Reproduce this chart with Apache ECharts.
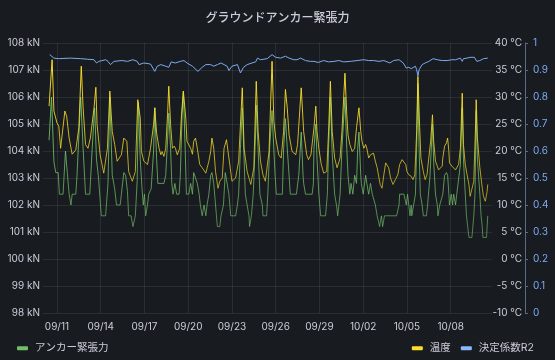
<!DOCTYPE html>
<html><head><meta charset="utf-8">
<script src="https://cdn.jsdelivr.net/npm/echarts@6/dist/echarts.min.js"></script>
<style>html,body{margin:0;padding:0;background:#181b1f;}#c{width:555px;height:360px;}</style>
</head><body><div id="c"></div>
<script>
// x = hours since 09/11 00:00
var xTickHours = [0, 72, 144, 216, 288, 360, 432, 504, 576, 648];
var xTickLabels = ['09/11','09/14','09/17','09/20','09/23','09/26','09/29','10/02','10/05','10/08'];

var tensionData = [
[-13,104.4],[-9,106.0],[-6,106.0],[-5,103.6],[-2,103.2],[2,103.2],[4,102.4],[10,102.4],[14,104.0],[17,103.2],[20,102.4],[22,102.4],[23,102.0],[25,102.4],[31,102.4],[33,103.1],[39,106.0],[43,104.1],[47,102.4],[54,102.4],[58,104.1],[62,105.6],[65,103.7],[68,103.1],[73,101.6],[80,101.6],[84,102.8],[87,106.0],[91,103.1],[95,102.6],[98,102.0],[104,102.0],[106,102.4],[110,103.2],[113,103.1],[116,102.5],[118,101.6],[122,101.6],[125,101.2],
[127,101.2],[129,101.6],[132,102.9],[134,105.8],[137,103.7],[140,102.6],[142,102.0],[144,102.4],[146,101.6],[149,102.0],[151,102.4],[155,102.6],[159,104.0],[161,105.6],[164,103.7],[166,102.8],[176,102.8],[179,103.1],[182,104.4],[184,105.4],[187,104.1],[189,102.8],[191,102.4],[194,102.8],[197,102.4],[201,102.4],[203,103.1],[206,105.4],[208,106.2],[211,104.1],[213,102.4],[217,102.4],[220,102.8],[223,102.4],[225,103.2],[228,103.2],[231,102.8],[234,102.4],[236,102.0],[239,101.6],[242,102.0],[245,101.6],[247,102.0],[250,102.4],[253,103.1],[255,103.2],[258,102.8],[261,102.0],[264,101.2],[268,101.2],[270,101.6],[274,102.0],
[275,102.4],[277,103.2],[280,103.2],[283,102.4],[286,101.6],[294,101.6],[297,102.0],[299,102.4],[302,104.1],[305,105.6],[308,103.7],[310,102.4],[316,101.6],[317,101.2],[320,101.6],[323,102.4],[327,104.7],[328,105.7],[331,104.1],[334,102.4],[338,102.0],[339,101.6],[345,101.6],[347,102.4],[350,104.1],[354,105.5],[356,104.5],[359,103.1],[361,102.4],[371,102.4],[373,104.1],[376,105.2],[379,104.1],[382,103.1],[384,102.4],[394,102.4],[398,103.1],[402,104.7],[405,103.1],[406,102.8],[409,102.4],[420,102.4],[422,102.8],
[423,104.1],[426,105.0],[428,103.7],[431,102.4],[434,101.6],[442,101.6],[445,102.4],[447,104.1],[450,106.0],[453,103.9],[457,102.4],[460,102.0],[462,101.6],[466,102.4],[469,104.1],[474,106.0],[477,104.1],[479,103.1],[482,102.4],[484,102.8],[487,102.4],[490,103.1],[493,102.8],[495,104.1],[497,104.7],[500,103.1],[501,102.8],[504,102.4],[508,103.1],[510,102.8],[513,102.4],[516,102.8],[519,102.4],[521,102.4],[524,102.0],[527,101.6],[530,101.6],[531,101.2],[534,101.6],[536,101.2],[539,101.6],[559,101.6],[563,102.0],[564,102.4],[571,102.4],
[574,102.4],[575,102.0],[577,102.4],[579,102.0],[581,101.6],[583,102.0],[584,101.6],[587,101.6],[590,102.4],[592,104.1],[594,106.5],[596,104.1],[598,102.4],[601,102.0],[603,101.6],[608,101.6],[610,102.0],[614,103.1],[618,105.0],[620,103.6],[623,102.4],[626,102.0],[627,101.6],[630,102.0],[632,102.0],[635,102.4],[638,103.1],[641,103.2],[643,103.1],[645,102.4],[646,102.0],[649,102.4],[651,102.0],[653,102.4],[656,102.0],[658,102.4],[661,102.4],[664,103.5],[667,105.6],[669,103.7],[672,102.4],[674,101.6],[676,101.2],[678,100.8],[683,100.8],[686,101.6],[688,102.4],[690,105.5],[692,103.7],[696,102.4],[698,101.6],[700,101.2],[701,100.8],[707,100.8],[709,101.6]
];

var temperatureData = [
[-13,28.3],[-8,36.9],[-5,27.4],[0,25.2],[3,24.6],[6,20.5],[9,20.5],[13,27.4],[16,26.4],[20,22.4],[25,19.4],[31,20.2],[36,24.3],[40,35.7],[43,28.0],[47,21.2],[51,20.5],[55,22.4],[61,28.0],[64,31.8],[66,24.9],[71,19.3],[77,15.9],[83,20.5],[87,31.1],[91,23.6],[95,21.2],[99,18.1],[106,19.3],[110,22.4],[115,21.8],[118,16.2],[124,14.4],
[129,16.2],[133,29.5],[137,26.1],[139,19.9],[143,18.1],[149,17.5],[154,20.5],[159,24.9],[161,28.0],[164,23.3],[168,20.5],[171,19.3],[173,19.9],[176,19.0],[179,20.5],[182,26.7],[184,32.0],[187,24.9],[190,20.5],[193,20.9],[195,20.5],[198,19.3],[202,20.5],[205,26.7],[208,31.1],[212,26.1],[214,21.8],[220,20.5],[223,19.4],[225,21.8],[228,22.4],[231,20.5],[235,17.5],[239,16.9],[245,15.9],[250,18.1],[253,19.9],[255,22.4],[258,20.5],[261,16.2],[265,13.1],[268,14.4],[272,15.0],
[275,20.5],[279,22.1],[283,18.7],[288,14.4],[294,15.0],[299,18.1],[305,31.7],[308,20.5],[313,16.2],[319,13.8],[324,16.9],[328,32.9],[331,23.6],[335,18.1],[339,15.6],[343,14.4],[349,19.9],[354,36.6],[357,25.5],[360,22.4],[365,19.3],[369,18.7],[373,23.6],[376,31.4],[379,28.0],[382,23.0],[387,19.9],[393,19.3],[396,21.2],[402,31.7],[406,23.6],[411,19.3],[414,18.4],[418,19.3],
[423,24.3],[426,28.3],[428,23.6],[431,20.5],[435,17.5],[439,15.9],[444,16.2],[447,23.6],[450,32.9],[453,23.6],[457,18.7],[461,16.9],[466,18.7],[469,23.6],[474,34.4],[477,26.7],[479,23.0],[482,21.2],[486,19.9],[490,20.5],[493,24.3],[497,28.0],[500,23.6],[502,21.8],[505,20.5],[508,21.2],[510,20.5],[513,18.7],[516,19.3],[519,19.0],[521,19.6],[524,18.1],[527,16.9],[530,15.0],[532,13.8],[535,13.1],[538,15.6],[541,17.8],[543,18.1],[546,16.9],[549,15.0],[553,13.8],[557,14.7],[561,15.6],[564,17.5],[568,18.4],[571,18.1],
[574,17.5],[576,16.2],[579,15.6],[581,15.9],[583,15.3],[586,14.7],[589,15.6],[592,23.6],[594,33.8],[597,24.3],[599,18.7],[603,16.2],[606,14.7],[609,15.6],[612,18.7],[615,21.8],[618,26.7],[620,21.8],[623,18.1],[626,17.2],[628,16.5],[631,16.2],[634,17.2],[635,18.7],[638,20.9],[641,21.5],[643,22.4],[645,19.9],[646,17.8],[650,17.2],[653,17.2],[656,16.5],[658,16.5],[661,17.5],[664,20.5],[667,30.7],[669,21.2],[672,17.5],[675,15.6],[678,13.8],[680,11.6],[683,11.3],[686,14.4],[689,24.9],[690,29.5],[692,22.4],[696,16.9],[700,13.1],[702,11.6],[705,10.7],[708,12.5],[709,13.8]
];

var r2Data = [
[-12,0.957],[-5,0.944],[3,0.942],[22,0.944],[39,0.942],[50,0.940],[61,0.938],[65,0.926],[69,0.932],[80,0.938],[84,0.932],[88,0.920],[94,0.932],[107,0.935],[116,0.932],[125,0.938],
[127,0.938],[132,0.932],[135,0.920],[143,0.926],[154,0.922],[161,0.895],[165,0.914],[171,0.920],[179,0.914],[184,0.910],[188,0.930],[195,0.926],[203,0.932],[209,0.935],[214,0.926],[223,0.914],[232,0.895],[239,0.910],[245,0.920],[248,0.926],[253,0.920],[258,0.914],[264,0.920],[270,0.926],
[275,0.920],[280,0.914],[283,0.898],[288,0.914],[297,0.920],[302,0.889],[307,0.910],[313,0.920],[321,0.926],[327,0.930],[330,0.944],[335,0.938],[346,0.942],[354,0.957],[360,0.947],[368,0.944],[376,0.951],[382,0.944],[390,0.938],[395,0.938],[401,0.944],[409,0.935],[417,0.932],
[423,0.932],[430,0.928],[439,0.935],[447,0.930],[456,0.932],[464,0.935],[472,0.930],[483,0.932],[494,0.935],[505,0.938],[513,0.935],[521,0.935],[530,0.932],[538,0.935],[548,0.926],[554,0.935],[563,0.938],[570,0.926],
[575,0.907],[579,0.910],[583,0.905],[586,0.910],[590,0.914],[592,0.901],[594,0.877],[596,0.901],[601,0.920],[606,0.926],[612,0.932],[619,0.942],[626,0.938],[634,0.935],[642,0.935],[650,0.938],[656,0.938],[664,0.944],[667,0.932],[669,0.942],[675,0.944],[680,0.947],[687,0.947],[691,0.932],[696,0.935],[702,0.942],[709,0.944]
];

var seriesNames = ['アンカー緊張力', '温度', '決定係数R2'];
var seriesColors = ['#73bf69', '#fade2a', '#8ab8ff'];

var FONT = 'Inter, "Noto Sans CJK JP", sans-serif';
var TXT = '#ccccdc';
var GRID = 'rgba(204,204,220,0.10)';

function grad(hex, a) {
  var r = parseInt(hex.substr(1,2),16), g = parseInt(hex.substr(3,2),16), b = parseInt(hex.substr(5,2),16);
  return new echarts.graphic.LinearGradient(0,0,0,1,[
    {offset:0, color:'rgba('+r+','+g+','+b+',1)'},
    {offset:1, color:'rgba('+r+','+g+','+b+','+a+')'}
  ]);
}

var chart = echarts.init(document.getElementById('c'), null, {renderer:'canvas'});
chart.setOption({
  backgroundColor: '#181b1f',
  animation: false,
  textStyle: {fontFamily: FONT},
  title: {
    text: 'グラウンドアンカー緊張力', left: 'center', top: 7,
    textStyle: {color: TXT, fontSize: 12, fontWeight: 500, fontFamily: FONT}
  },
  legend: [{
    data: [{name: seriesNames[0], itemStyle: {color: seriesColors[0]}}],
    left: 12, top: 338, icon: 'roundRect', itemWidth: 11, itemHeight: 4,
    textStyle: {color: TXT, fontSize: 10.5, fontFamily: FONT, padding: [0,0,0,2]}
  }, {
    data: [{name: seriesNames[1], itemStyle: {color: seriesColors[1]}}, {name: seriesNames[2], itemStyle: {color: seriesColors[2]}}],
    right: 16, top: 338, icon: 'roundRect', itemWidth: 11, itemHeight: 4, itemGap: 10,
    textStyle: {color: TXT, fontSize: 10.5, fontFamily: FONT, padding: [0,0,0,2]}
  }],
  grid: {left: 43, right: 63, top: 43, bottom: 47, containLabel: false},
  xAxis: {
    type: 'value', min: -23, max: 716,
    axisLine: {show: false},
    axisTick: {show: false, customValues: xTickHours},
    axisLabel: {
      customValues: xTickHours, color: TXT, fontSize: 10, margin: 9, fontFamily: FONT,
      formatter: function (v) { var i = xTickHours.indexOf(v); return i >= 0 ? xTickLabels[i] : ''; }
    },
    splitLine: {show: true, lineStyle: {color: GRID, width: 1}}
  },
  yAxis: [{
    type: 'value', position: 'left', min: 98, max: 108, interval: 1,
    axisLine: {show: false}, axisTick: {show: false},
    axisLabel: {formatter: '{value} kN', color: TXT, fontSize: 10, margin: 3, fontFamily: FONT},
    splitLine: {show: true, lineStyle: {color: GRID, width: 1}}
  }, {
    type: 'value', position: 'right', offset: 33, min: -10, max: 40, interval: 5,
    axisLine: {show: false}, axisTick: {show: false},
    axisLabel: {inside: true, formatter: '{value} °C', color: TXT, fontSize: 10, margin: 3, fontFamily: FONT},
    splitLine: {show: false}
  }, {
    type: 'value', position: 'right', offset: 33, min: 0, max: 1, interval: 0.1,
    axisLine: {show: true, lineStyle: {color: '#5a6b8c', width: 1}},
    axisTick: {show: true, inside: false, length: 3, lineStyle: {color: '#5a6b8c'}},
    axisLabel: {color: '#7eaaf5', fontSize: 10, margin: 8, fontFamily: FONT},
    splitLine: {show: false}
  }],
  series: [{
    name: seriesNames[0], type: 'line', yAxisIndex: 0, data: tensionData,
    showSymbol: false, symbol: 'none',
    itemStyle: {color: seriesColors[0]},
    lineStyle: {width: 1, color: grad(seriesColors[0], 0.6)}
  }, {
    name: seriesNames[1], type: 'line', yAxisIndex: 1, data: temperatureData,
    showSymbol: false, symbol: 'none',
    itemStyle: {color: seriesColors[1]},
    lineStyle: {width: 1, color: grad(seriesColors[1], 0.6)}
  }, {
    name: seriesNames[2], type: 'line', yAxisIndex: 2, data: r2Data,
    showSymbol: false, symbol: 'none',
    itemStyle: {color: seriesColors[2]},
    lineStyle: {width: 1, color: '#7eaaf0'}
  }]
});
</script></body></html>
